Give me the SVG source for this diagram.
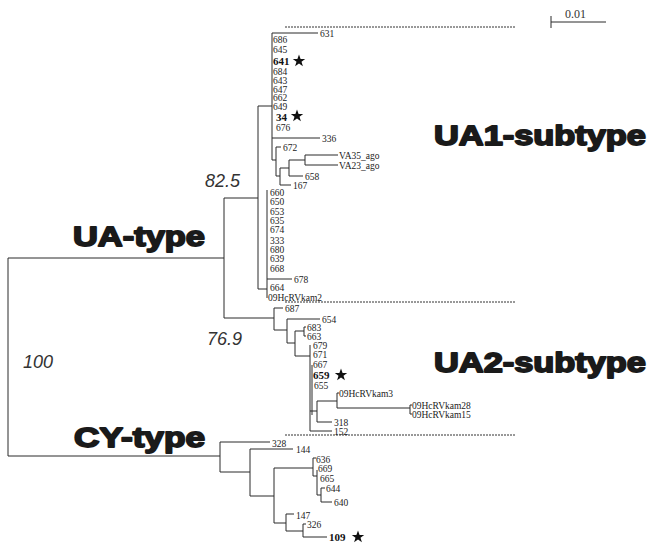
<svg xmlns="http://www.w3.org/2000/svg" width="650" height="547" viewBox="0 0 650 547">
<defs>
<style>
.br{fill:none;stroke:#2a2a2a;stroke-width:1}
.ds{fill:none;stroke:#333;stroke-width:1;stroke-dasharray:2,1}
.lf{font-family:"Liberation Serif",serif;font-size:9.5px;fill:#222}
.bd{font-family:"Liberation Serif",serif;font-size:11px;font-weight:bold;fill:#111}
.big{font-family:"Liberation Sans",Arial,sans-serif;font-size:28px;font-weight:900;fill:#1a1a1a;stroke:#1a1a1a;stroke-width:1.8;stroke-linejoin:round}
.bs{font-family:"Liberation Sans",Arial,sans-serif;font-size:18px;font-style:italic;fill:#333}
.sc{font-family:"Liberation Serif",serif;font-size:12px;fill:#333}
</style>
<polygon id="star" points="0,-6.5 1.6,-2 6.2,-2 2.5,0.8 3.9,5.3 0,2.6 -3.9,5.3 -2.5,0.8 -6.2,-2 -1.6,-2" fill="#111"/>
</defs>
<rect width="650" height="547" fill="#fff"/>

<g id="connectors">
<path class="br" d="M224,258 H8 V456 H220"/>
<path class="br" d="M258,198 H224 V318 H274"/>
<path class="br" d="M272,106 H258 V289 H267"/>
<path class="br" d="M318,33 H272 V160 H276"/>
<path class="br" d="M272,138 H320"/>
<path class="br" d="M281,147 H276 V176 H280"/>
<path class="br" d="M289,168 H280 V185 H291"/>
<path class="br" d="M305,160 H289 V176 H303"/>
<path class="br" d="M338,155 H305 V165 H338"/>
<path class="br" d="M267,190 V298"/>
<path class="br" d="M267,279 H292"/>
<path class="br" d="M283,308 H274 V330 H287"/>
<path class="br" d="M320,319 H287 V343 H295"/>
<path class="br" d="M304,331 H295 V356 H310"/>
<path class="br" d="M306,327 H304 V336 H306"/>
<path class="br" d="M310,345 V431 H332"/>
<path class="br" d="M312,365 V415"/>
<path class="br" d="M310,411 H317"/>
<path class="br" d="M337,401 H317 V422 H332"/>
<path class="br" d="M339,393 H337 V408 H410"/>
<path class="br" d="M412,405 H410 V414 H412"/>
<path class="br" d="M270,442 H220 V472 H250"/>
<path class="br" d="M293,449 H250 V496 H274"/>
<path class="br" d="M313,468 H274 V523 H286"/>
<path class="br" d="M316,458 H313 V476 H317"/>
<path class="br" d="M317,470 V495 H321"/>
<path class="br" d="M325,488 H321 V502 H332"/>
<path class="br" d="M294,514 H286 V531 H303"/>
<path class="br" d="M306,524 H303 V537 H327"/>
<path class="ds" d="M285,27 H515"/>
<path class="ds" d="M285,302 H515"/>
<path class="ds" d="M285,435 H515"/>
<path class="br" d="M551,22 H606 M551,16 V28"/>
</g>

<g id="scale"><text class="sc" x="565" y="18">0.01</text></g>

<g id="group-labels">
<text id="ua-type" class="big" x="73" y="246" textLength="132" lengthAdjust="spacingAndGlyphs">UA-type</text>
<text id="cy-type" class="big" x="74" y="447" textLength="131" lengthAdjust="spacingAndGlyphs">CY-type</text>
<text id="ua1-subtype" class="big" x="434" y="145" textLength="212" lengthAdjust="spacingAndGlyphs">UA1-subtype</text>
<text id="ua2-subtype" class="big" x="434" y="372" textLength="212" lengthAdjust="spacingAndGlyphs">UA2-subtype</text>
</g>

<g id="support">
<text class="bs" x="205" y="187">82.5</text>
<text class="bs" x="207" y="345">76.9</text>
<text class="bs" x="23" y="368">100</text>
</g>

<g id="ua1-leaves">
<text class="lf" x="320" y="36.5">631</text>
<text class="lf" x="273" y="43">686</text>
<text class="lf" x="273" y="52.5">645</text>
<g id="leaf-641"><text class="bd" x="273" y="65">641</text><use href="#star" x="299" y="61"/></g>
<text class="lf" x="273" y="74.5">684</text>
<text class="lf" x="273" y="83.5">643</text>
<text class="lf" x="273" y="92.5">647</text>
<text class="lf" x="273" y="101">662</text>
<text class="lf" x="273" y="109.5">649</text>
<g id="leaf-34"><text class="bd" x="276" y="121">34</text><use href="#star" x="297" y="116"/></g>
<text class="lf" x="276" y="130.5">676</text>
<text class="lf" x="322" y="141.5">336</text>
<text class="lf" x="283" y="150.5">672</text>
<text class="lf" x="339" y="158.5">VA35_ago</text>
<text class="lf" x="339" y="168.5">VA23_ago</text>
<text class="lf" x="305" y="179.5">658</text>
<text class="lf" x="293" y="188.5">167</text>
<text class="lf" x="270" y="195.5">660</text>
<text class="lf" x="270" y="204.5">650</text>
<text class="lf" x="270" y="214.5">653</text>
<text class="lf" x="270" y="223.5">635</text>
<text class="lf" x="270" y="232.5">674</text>
<text class="lf" x="270" y="243.5">333</text>
<text class="lf" x="270" y="252.5">680</text>
<text class="lf" x="270" y="261.5">639</text>
<text class="lf" x="270" y="271.5">668</text>
<text class="lf" x="294" y="282.5">678</text>
<text class="lf" x="270" y="290.5">664</text>
<text class="lf" x="268" y="300.5">09HcRVkam2</text>
</g>

<g id="ua2-leaves">
<text class="lf" x="285" y="311.5">687</text>
<text class="lf" x="322" y="322.5">654</text>
<text class="lf" x="307" y="330.5">683</text>
<text class="lf" x="307" y="339.5">663</text>
<text class="lf" x="313" y="348.5">679</text>
<text class="lf" x="313" y="357.5">671</text>
<text class="lf" x="313" y="367.5">667</text>
<g id="leaf-659"><text class="bd" x="313" y="379">659</text><use href="#star" x="341" y="375"/></g>
<text class="lf" x="314" y="388.5">655</text>
<text class="lf" x="339" y="396.5">09HcRVkam3</text>
<text class="lf" x="412" y="408.5">09HcRVkam28</text>
<text class="lf" x="412" y="417.5">09HcRVkam15</text>
<text class="lf" x="334" y="425.5">318</text>
<text class="lf" x="334" y="434.5">152</text>
</g>

<g id="cy-leaves">
<text class="lf" x="272" y="446.5">328</text>
<text class="lf" x="296" y="452.5">144</text>
<text class="lf" x="316" y="462.5">636</text>
<text class="lf" x="318" y="471.5">669</text>
<text class="lf" x="320" y="481.5">665</text>
<text class="lf" x="326" y="491.5">644</text>
<text class="lf" x="334" y="505.5">640</text>
<text class="lf" x="296" y="518.5">147</text>
<text class="lf" x="307" y="527.5">326</text>
<g id="leaf-109"><text class="bd" x="329" y="541">109</text><use href="#star" x="358" y="537"/></g>
</g>
</svg>
